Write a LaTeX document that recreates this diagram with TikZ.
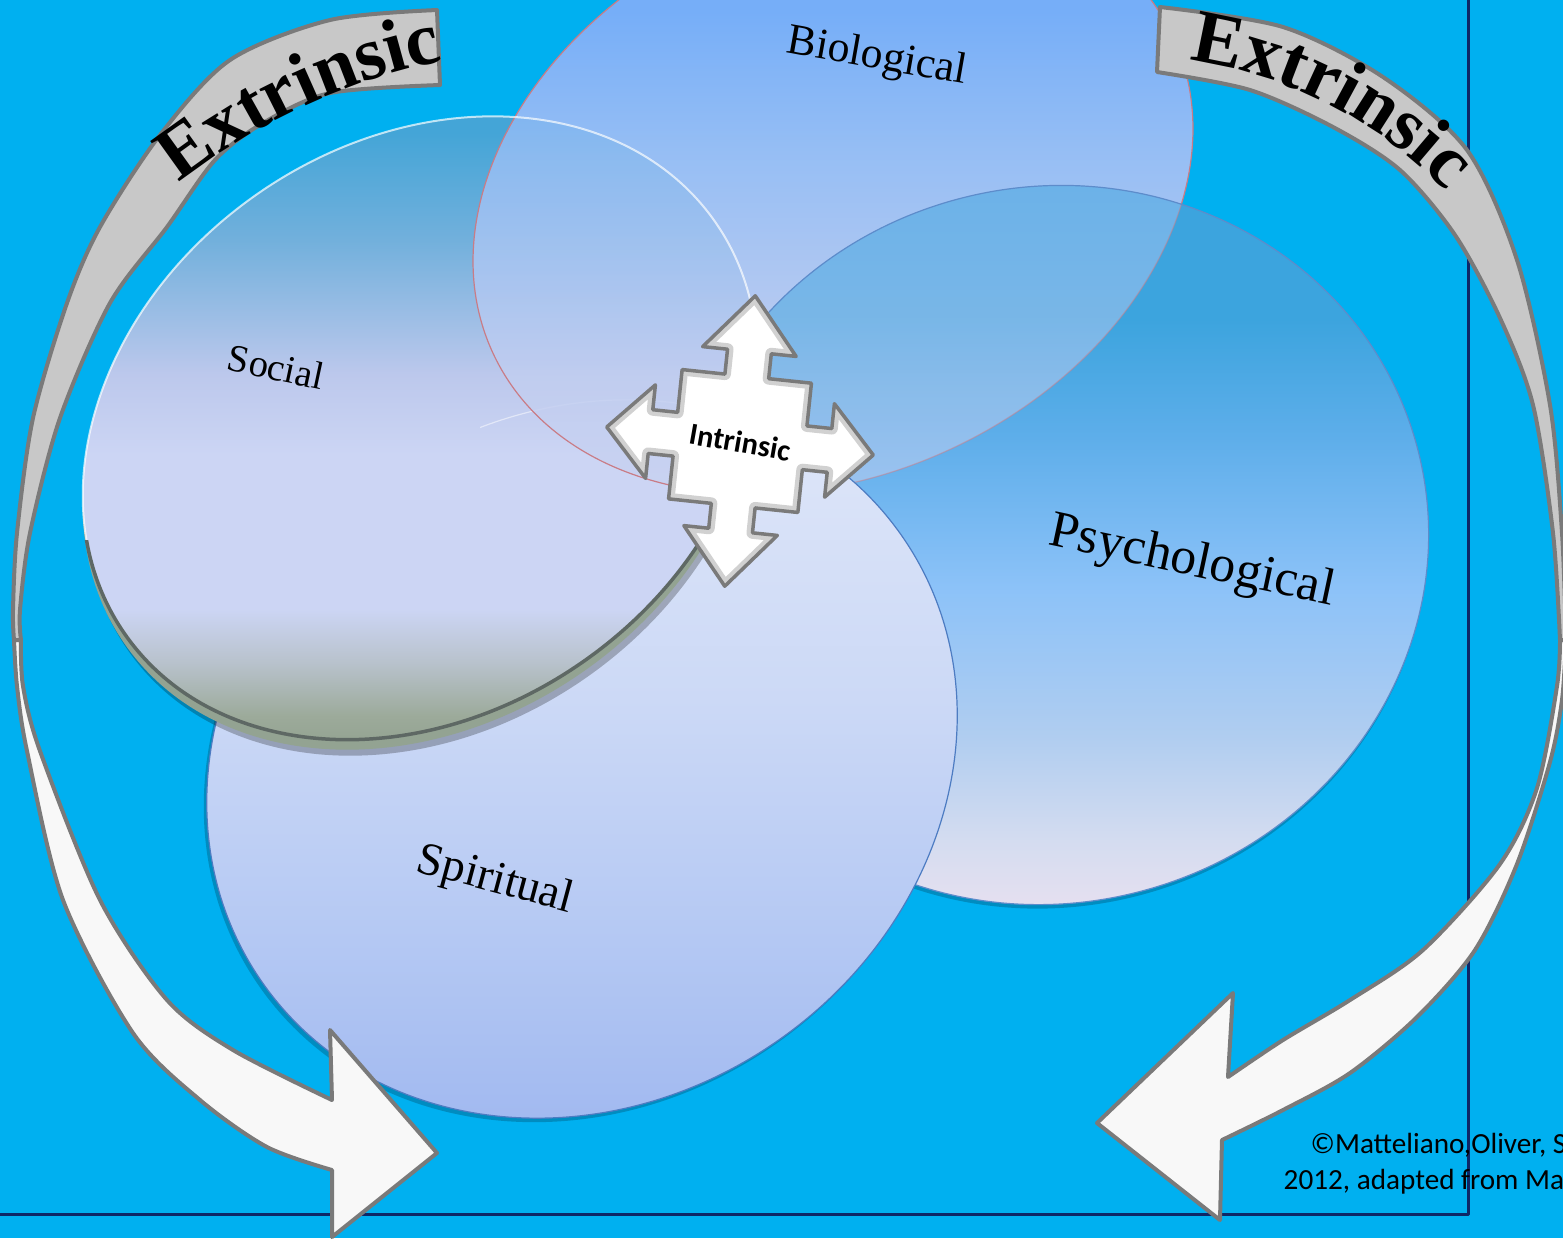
\documentclass[tikz,border=0pt]{standalone}
\usepackage{fontspec}
\newfontfamily\timesf{Liberation Serif}
\newfontfamily\calibrif{Carlito}
\usetikzlibrary{decorations.text}

\definecolor{bgblue}{HTML}{00B0F0}
\definecolor{framenavy}{HTML}{0E2766}
\definecolor{bandgray}{HTML}{C8C8C8}
\definecolor{bandline}{HTML}{7A7A7A}
\definecolor{bandwhite}{HTML}{F8F8F8}
\definecolor{bioedge}{HTML}{C97C86}
\definecolor{psyedge}{HTML}{5D8CCB}
\definecolor{spiedge}{HTML}{4D7CC2}
\definecolor{socrim}{HTML}{5E6864}
\definecolor{socrimfill}{HTML}{93A392}
% colour stops, bottom to top
\definecolor{bioA}{HTML}{CCD4F2}\definecolor{bioB}{HTML}{C2CEF0}\definecolor{bioC}{HTML}{96BEF4}\definecolor{bioD}{HTML}{76AEF8}
\definecolor{psyA}{HTML}{F0E2F0}\definecolor{psyB}{HTML}{D4DCF0}\definecolor{psyC}{HTML}{B0CDF0}\definecolor{psyD}{HTML}{8CC2F8}\definecolor{psyE}{HTML}{5EAEEA}\definecolor{psyF}{HTML}{3CA4DE}
\definecolor{spiA}{HTML}{A0B8F0}\definecolor{spiB}{HTML}{B4C8F3}\definecolor{spiC}{HTML}{CCD9F6}\definecolor{spiD}{HTML}{DAE3F8}
\definecolor{socA}{HTML}{8E9E8C}\definecolor{socB}{HTML}{9CAA9A}\definecolor{socC}{HTML}{B8C2CC}\definecolor{socD}{HTML}{CCD5F4}\definecolor{socE}{HTML}{BCC8EC}\definecolor{socF}{HTML}{72B0DC}\definecolor{socG}{HTML}{44A5D7}

% the shape fills 25bp..75bp of each shading
\pgfdeclareverticalshading{bioshade}{100bp}{color(0bp)=(bioA); color(25bp)=(bioA); color(37bp)=(bioB); color(55bp)=(bioC); color(66bp)=(bioD); color(100bp)=(bioD)}
\pgfdeclareverticalshading{psyshade}{100bp}{color(0bp)=(psyA); color(25bp)=(psyA); color(32bp)=(psyB); color(39bp)=(psyC); color(49bp)=(psyD); color(59bp)=(psyE); color(67bp)=(psyF); color(100bp)=(psyF)}
\pgfdeclareverticalshading{spishade}{100bp}{color(0bp)=(spiA); color(25bp)=(spiA); color(38bp)=(spiB); color(54bp)=(spiC); color(68bp)=(spiD); color(100bp)=(spiD)}
\pgfdeclareverticalshading{socshade}{100bp}{color(0bp)=(socA); color(25bp)=(socA); color(28.5bp)=(socB); color(32.5bp)=(socC); color(36.5bp)=(socD); color(48bp)=(socD); color(54bp)=(socE); color(64bp)=(socF); color(72bp)=(socG); color(100bp)=(socG)}

\newcommand\extfont{\timesf\bfseries\fontsize{21.5}{22}\selectfont}
\newcommand\intrfont{\calibrif\bfseries\fontsize{8.7}{10}\selectfont}
\newcommand\copyfont{\calibrif\fontsize{8.3}{10}\selectfont}
\newcommand\intrpath{(0,-146) -- (47,-90) -- (22,-90) -- (22,-65) -- (65,-65) -- (65,-22) -- (90,-22) -- (90,-47) -- (134,0) -- (90,47) -- (90,22) -- (65,22) -- (65,65) -- (22,65) -- (22,90) -- (47,90) -- (0,146) -- (-47,90) -- (-22,90) -- (-22,65) -- (-65,65) -- (-65,22) -- (-90,22) -- (-90,47) -- (-134,0) -- (-90,-47) -- (-90,-22) -- (-65,-22) -- (-65,-65) -- (-22,-65) -- (-22,-90) -- (-47,-90) -- cycle}

\begin{document}
\begin{tikzpicture}[x=0.01cm, y=-0.01cm, line join=round, line cap=round,
	biorot/.style={rotate around={25:(833,195)}},
	psyrot/.style={rotate around={15:(1050,545)}},
	spirot/.style={rotate around={35:(582,759)}},
	socrot/.style={rotate around={35:(420,428)}},
	band/.style={draw=bandline, line width=0.04cm},
	thinedge/.style={line width=0.012cm}]
	\useasboundingbox (0,0) rectangle (1563,1238);
	\begin{scope}
	\clip (0,0) rectangle (1563,1238);
	\fill[bgblue] (0,0) rectangle (1563,1238);
	\path (1468,0) coordinate (fTop) (1468,1214) coordinate (fCorner) (0,1214) coordinate (fLeft);
	\draw[framenavy, line width=0.03cm] (fTop) -- (fCorner) -- (fLeft);
	%Biological, then Psychological over it
	\shade[biorot, shading=bioshade] (833,195) ellipse (375 and 280);
	\draw[biorot, bioedge, thinedge] (833,195) ellipse (375 and 280);
	\fill[black, opacity=.2, rotate around={15:(1049,549)}] (1049,549) ellipse (380 and 358);
	\shade[psyrot, shading=psyshade] (1050,545) ellipse (380 and 358);
	\begin{scope}
	\clip[psyrot] (1050,545) ellipse (380 and 358);
	\shade[biorot, shading=bioshade, fill opacity=.5] (833,195) ellipse (375 and 280);
	\draw[biorot, bioedge, thinedge, opacity=.5] (833,195) ellipse (375 and 280);
	\end{scope}
	\draw[psyrot, psyedge, thinedge] (1050,545) ellipse (380 and 358);
	%Spiritual
	\fill[black, opacity=.2, rotate around={35:(579,763)}] (579,763) ellipse (390 and 343);
	\shade[spirot, shading=spishade] (582,759) ellipse (390 and 343);
	\draw[spirot, spiedge, thinedge] (582,759) ellipse (390 and 343);
	%Social with its rim
	\fill[black, opacity=.25, rotate around={35:(423,444)}] (423,444) ellipse (360 and 285);
	\fill[socrimfill, rotate around={35:(420,438)}] (420,438) ellipse (360 and 285);
	\shade[socrot, shading=socshade] (420,428) ellipse (360 and 285);
	\begin{scope}
	\clip[socrot] (420,428) ellipse (360 and 285);
	\begin{scope}
	\clip (480,360) rectangle (760,450);
	\draw[spirot, white, opacity=.5, thinedge] (582,759) ellipse (390 and 343);
	\end{scope}
	\shade[biorot, shading=bioshade, fill opacity=.85] (833,195) ellipse (375 and 280);
	\draw[biorot, bioedge, thinedge] (833,195) ellipse (375 and 280);
	\end{scope}
	\draw[socrot, white, opacity=.7, line width=0.02cm] (420,428) ellipse (360 and 285);
	\begin{scope}
	\clip (0,540) rectangle (800,800);
	\draw[socrot, socrim, line width=0.035cm] (420,428) ellipse (360 and 285);
	\end{scope}
	%Intrinsic
	\begin{scope}[shift={(740,441)}, rotate=-6]
	\fill[white] \intrpath;
	\begin{scope}
	\clip \intrpath;
	\draw[black, opacity=.18, line width=0.12cm] \intrpath;
	\end{scope}
	\draw[bandline, line width=0.035cm] \intrpath;
	\end{scope}
	\node[rotate=-10, inner sep=0pt, font=\intrfont] (intr) at (740,442) {Intrinsic};
	\foreach \n/\x/\y/\r/\s/\t in {bio/877/58/-10/12.4/Biological, soc/276/367/-12/11/Social, psy/1192/563/-12/14.7/Psychological, spi/495/881/-15/13.2/Spiritual}
	\node[rotate=\r, inner sep=0pt, font=\timesf\fontsize{\s}{\s}\selectfont] (\n) at (\x,\y) {\t};
	%Extrinsic, left
	\filldraw[band, fill=bandgray] plot[smooth] coordinates {(437,10) (330,20) (230,60) (160,135) (100,227) (67,303) (33,418) (17,533) (13,610) (14,640)}
	-- plot[smooth] coordinates {(21,640) (20,610) (30,533) (60,418) (110,303) (167,227) (215,160) (263,123) (330,93) (440,85)} -- cycle;
	\filldraw[band, fill=bandwhite] plot[smooth] coordinates {(14,640) (17,686) (27,751) (63,900) (133,1033) (200,1100) (267,1147) (332,1170)}
	-- (332,1237) -- (437,1153) -- (330,1030)
	-- plot[smooth] coordinates {(332,1100) (233,1050) (167,1000) (100,900) (40,751) (23,686) (21,640)} -- cycle;
	%Extrinsic, right
	\filldraw[band, fill=bandgray] plot[smooth] coordinates {(1160,7) (1283,27) (1383,77) (1467,150) (1517,260) (1550,405) (1562,533) (1566,640)}
	-- plot[smooth] coordinates {(1560,640) (1553,533) (1533,405) (1500,318) (1455,235) (1400,170) (1333,127) (1250,90) (1157,72)} -- cycle;
	\filldraw[band, fill=bandwhite] plot[smooth] coordinates {(1566,640) (1562,700) (1550,762) (1517,864) (1475,950) (1417,1017) (1350,1073) (1283,1110) (1222,1140)}
	-- (1220,1220) -- (1097,1123) -- (1233,993)
	-- plot[smooth] coordinates {(1228,1077) (1283,1040) (1350,1000) (1423,950) (1500,864) (1537,788) (1557,686) (1560,640)} -- cycle;
	\path[decorate, decoration={text along path, text align=center, text={|\extfont|Extrinsic}}]
	(158,200) .. controls (245,128) and (345,76) .. (470,56);
	\path[decorate, decoration={text along path, text align=center, text={|\extfont|Extrinsic}}]
	(1172,58) .. controls (1276,70) and (1376,114) .. (1458,204);
	%copyright
	\node[anchor=base west, inner sep=0pt, font=\copyfont] (copyA) at (1310,1153) {©Matteliano,Oliver, S};
	\node[anchor=base west, inner sep=0pt, font=\copyfont] (copyB) at (1283,1189) {2012, adapted from Ma};
	\end{scope}
\end{tikzpicture}
\end{document}
